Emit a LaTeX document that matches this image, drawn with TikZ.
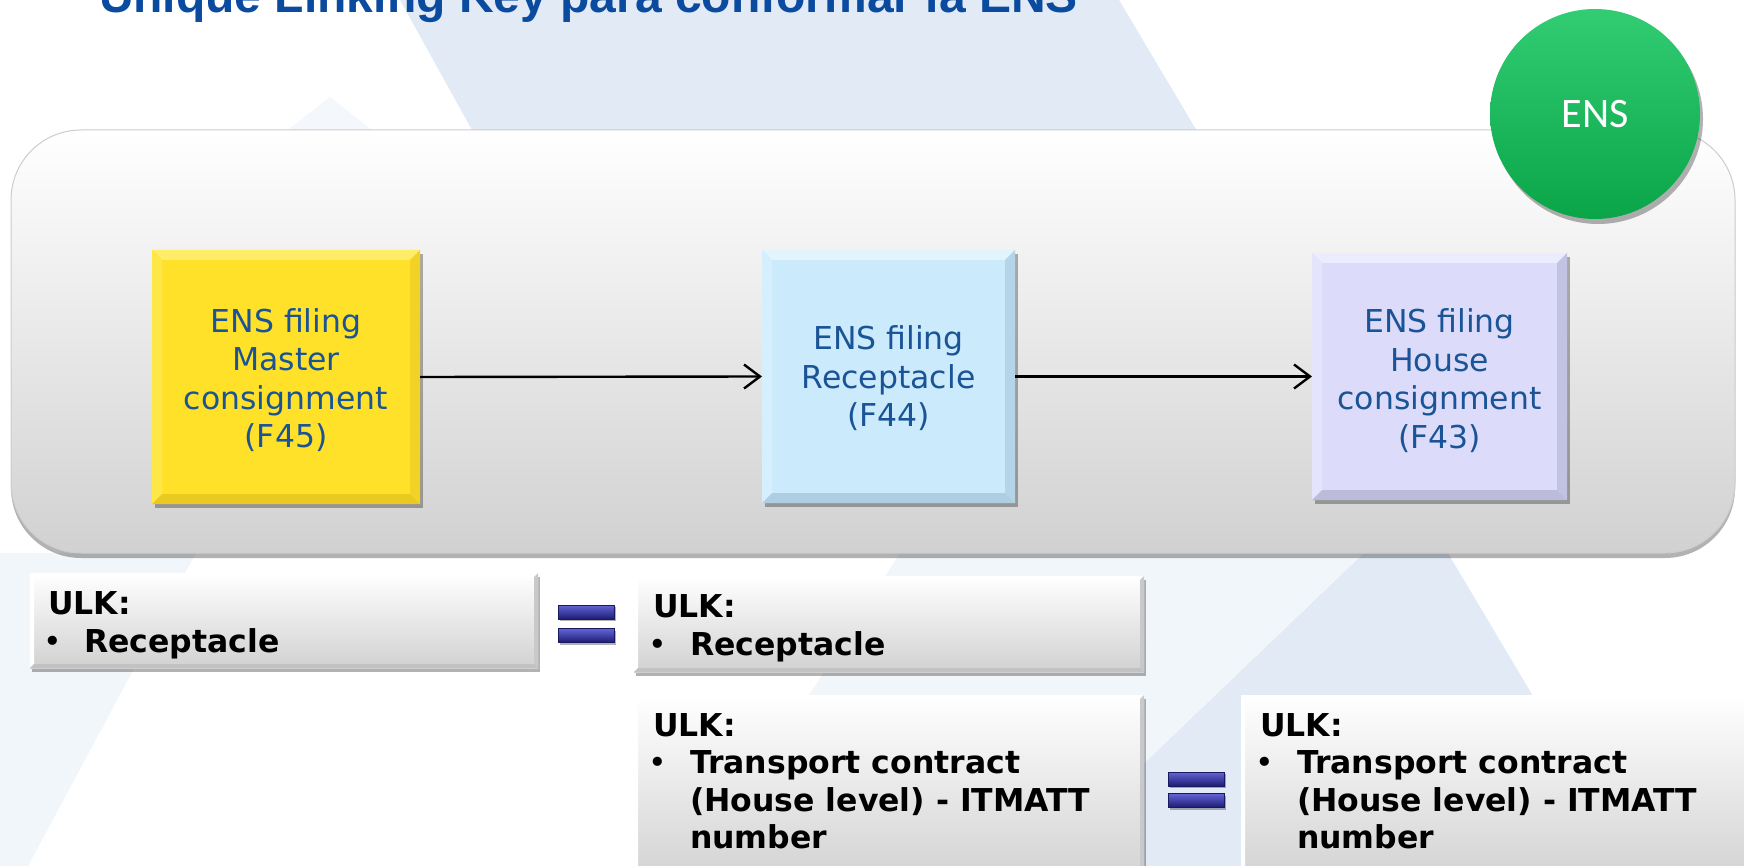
\documentclass[tikz,border=0pt]{standalone}
\usepackage{fontspec}
\setmainfont{DejaVu Sans}
\newfontfamily\titlefont{Liberation Sans}
\newfontfamily\calfont{Carlito}
\usetikzlibrary{shadows,arrows.meta,calc}

\definecolor{titleblue}{RGB}{10,75,160}
\definecolor{txtblue}{RGB}{26,84,150}
\definecolor{bgblue}{RGB}{225,234,245}
\definecolor{bgpale}{RGB}{241,246,251}
\definecolor{bgfaint}{RGB}{244,247,251}
\definecolor{yelmain}{RGB}{255,225,42}
\definecolor{yeltop}{RGB}{255,237,105}
\definecolor{yelleft}{RGB}{255,231,72}
\definecolor{yelright}{RGB}{242,210,36}
\definecolor{yelbot}{RGB}{234,202,32}
\definecolor{blmain}{RGB}{203,234,252}
\definecolor{bltop}{RGB}{226,245,255}
\definecolor{blleft}{RGB}{214,239,254}
\definecolor{blright}{RGB}{182,212,232}
\definecolor{blbot}{RGB}{176,206,226}
\definecolor{pumain}{RGB}{220,220,250}
\definecolor{putop}{RGB}{236,236,255}
\definecolor{puleft}{RGB}{228,228,253}
\definecolor{puright}{RGB}{194,194,226}
\definecolor{pubot}{RGB}{188,188,218}
\definecolor{gtop}{RGB}{50,205,115}
\definecolor{gmid}{RGB}{12,176,80}
\definecolor{gbot}{RGB}{10,165,72}
\definecolor{eqtop}{RGB}{100,100,215}
\definecolor{eqmid}{RGB}{42,42,160}
\definecolor{eqbot}{RGB}{28,28,115}
\definecolor{eqline}{RGB}{25,25,95}

\newcommand\bevelsides[6]{%
  \fill[#3] (#1.north west) -- (#1.north east) -- ($(#1.north east)+(-#2,#2)$) -- ($(#1.north west)+(#2,#2)$) -- cycle;
  \fill[#4] (#1.north west) -- ($(#1.north west)+(#2,#2)$) -- ($(#1.south west)+(#2,-#2)$) -- (#1.south west) -- cycle;
  \fill[#5] (#1.north east) -- ($(#1.north east)+(-#2,#2)$) -- ($(#1.south east)+(-#2,-#2)$) -- (#1.south east) -- cycle;
  \fill[#6] (#1.south west) -- ($(#1.south west)+(#2,-#2)$) -- ($(#1.south east)+(-#2,-#2)$) -- (#1.south east) -- cycle;
}

\begin{document}
\begin{tikzpicture}[x=1pt,y=-1pt,
  every node/.style={inner sep=0pt, outer sep=0pt},
  panelbox/.style={rounded corners=70pt, draw=gray!40, line width=1pt,
    top color=white, middle color=gray!8, bottom color=gray!36,
    drop shadow={shadow xshift=0pt, shadow yshift=-5pt, opacity=0.3, fill=black}},
  ensbox/.style={drop shadow={shadow xshift=3pt, shadow yshift=-4pt, opacity=0.3, fill=black}},
  enstxt/.style={align=center, text=txtblue, font=\fontsize{31.5}{38.5}\selectfont},
  ulkbox/.style={top color=white, bottom color=gray!36,
    drop shadow={shadow xshift=2pt, shadow yshift=-4pt, opacity=0.3, fill=black}},
  ulktxt/.style={anchor=base west, font=\bfseries\fontsize{31.5}{38}\selectfont},
  bul/.style={anchor=base, font=\fontsize{31.5}{38}\selectfont},
  eqbar/.style={minimum width=56pt, minimum height=14pt, draw=eqline, line width=0.8pt,
    top color=eqtop, middle color=eqmid, bottom color=eqbot,
    drop shadow={shadow xshift=1.5pt, shadow yshift=-2pt, opacity=0.3, fill=black}},
  arr/.style={line width=2.4pt, -{Straight Barb[length=16pt,width=24pt]}}
]
\useasboundingbox (0,0) rectangle (1744,866);
\clip (0,0) rectangle (1744,866);

% background
\fill[white] (0,0) rectangle (1744,866);
\fill[bgblue] (400,0) -- (1119,0) -- (1634,866) -- (1037,866) -- (1417,502) -- (472,130) -- cycle;
\fill[bgpale] (0,553) -- (196,553) -- (28,866) -- (0,866) -- cycle;
\fill[bgpale] (900,553) -- (1363,553) -- (1037,866) -- (700,866) -- cycle;
\fill[bgfaint] (330,97) -- (372,130) -- (288,130) -- cycle;

% title
\node[anchor=base west, font=\titlefont\bfseries\fontsize{48}{57}\selectfont, text=titleblue]
  (title) at (99,13) {Unique Linking Key para conformar la ENS};

% panel
\node[panelbox, minimum width=1724pt, minimum height=423pt] (panel) at (873,341.5) {};

% ENS filing boxes
\node[ensbox, fill=yelmain, minimum width=268pt, minimum height=254pt] (yel) at (286,377) {};
\node[ensbox, fill=blmain, minimum width=253pt, minimum height=253pt] (rec) at (888.5,376.5) {};
\node[ensbox, fill=pumain, minimum width=255pt, minimum height=247pt] (hou) at (1439.5,376.5) {};
\bevelsides{yel}{10}{yeltop}{yelleft}{yelright}{yelbot}
\bevelsides{rec}{10}{bltop}{blleft}{blright}{blbot}
\bevelsides{hou}{10}{putop}{puleft}{puright}{pubot}
\node[enstxt] (yelt) at ($(yel)+(0,3)$) {ENS filing\\Master\\consignment\\(F45)};
\node[enstxt] (rect) at ($(rec)+(0,2)$) {ENS filing\\Receptacle\\(F44)};
\node[enstxt] (hout) at ($(hou)+(0,4)$) {ENS filing\\House\\consignment\\(F43)};

\draw[arr] (yel.east) -- (rec.west);
\draw[arr] (rec.east) -- (hou.west);

% ENS circle
\node[circle, minimum size=210pt, top color=gtop, middle color=gmid, bottom color=gbot,
  drop shadow={shadow xshift=3pt, shadow yshift=-5pt, opacity=0.3, fill=black},
  text=white, font=\calfont\fontsize{42}{50}\selectfont] (ens) at (1595,114) {ENS};

% ULK boxes
\node[ulkbox, minimum width=508pt, minimum height=95pt] (b1) at (284,620.5) {};
\node[ulkbox, minimum width=510pt, minimum height=96pt] (b2) at (889,624) {};
\node[ulkbox, minimum width=510pt, minimum height=190pt] (b3) at (889,790) {};
\node[ulkbox, minimum width=520pt, minimum height=190pt] (b4) at (1501,790) {};
\bevelsides{b1}{4}{white}{white}{gray!42}{gray!48}
\bevelsides{b2}{4}{white}{white}{gray!42}{gray!48}
\bevelsides{b3}{4}{white}{white}{gray!42}{gray!48}
\bevelsides{b4}{4}{white}{white}{gray!42}{gray!48}

\node[ulktxt] (b1h) at (48,614) {ULK:};
\node[bul] (b1d) at (53,652) {•};
\node[ulktxt] (b1i) at (84,652) {Receptacle};

\node[ulktxt] (b2h) at (653,617) {ULK:};
\node[bul] (b2d) at (658,655) {•};
\node[ulktxt] (b2i) at (690,655) {Receptacle};

\node[ulktxt] (b3h) at (653,736) {ULK:};
\node[bul] (b3d) at (658,773.5) {•};
\node[ulktxt] (b3i) at (690,773.5) {Transport contract};
\node[ulktxt] (b3j) at (690,811) {(House level) - ITMATT};
\node[ulktxt] (b3k) at (690,848.5) {number};

\node[ulktxt] (b4h) at (1260,736) {ULK:};
\node[bul] (b4d) at (1265,773.5) {•};
\node[ulktxt] (b4i) at (1297,773.5) {Transport contract};
\node[ulktxt] (b4j) at (1297,811) {(House level) - ITMATT};
\node[ulktxt] (b4k) at (1297,848.5) {number};

% equals signs
\node[eqbar] (e1a) at (586,612) {};
\node[eqbar] (e1b) at (586,635.5) {};
\node[eqbar] (e2a) at (1196.5,779) {};
\node[eqbar] (e2b) at (1196.5,800.5) {};
\end{tikzpicture}
\end{document}
